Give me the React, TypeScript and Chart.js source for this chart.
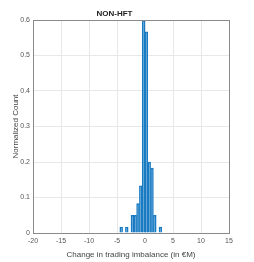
import React, { useEffect, useRef } from "react";
import { Chart, registerables } from "chart.js";

Chart.register(...registerables);

// Bin centres (width 0.5, edges -4.5 … 3.0)
const binCenters = [-4.25, -3.75, -3.25, -2.75, -2.25, -1.75, -1.25, -0.75, -0.25, 0.25, 0.75, 1.25, 1.75, 2.25, 2.75];
const binValues = [0.0167, 0, 0.0167, 0, 0.05, 0.05, 0.083, 0.133, 0.6, 0.567, 0.2, 0.183, 0.05, 0, 0.0167];
const xTicks = [-20, -15, -10, -5, 0, 5, 10, 15];
const yTicks = [0, 0.1, 0.2, 0.3, 0.4, 0.5, 0.6];
const titleText = "NON-HFT";
const xLabel = "Change in trading imbalance (in €M)";
const yLabel = "Normalized Count";

const FONT = "'Liberation Sans', Arial, Helvetica, sans-serif";

const boxPlugin = {
  id: "boxPlugin",
  afterDraw(chart: any) {
    const { ctx, chartArea } = chart;
    ctx.save();
    ctx.strokeStyle = "#8a8a8a";
    ctx.lineWidth = 1;
    ctx.strokeRect(
      Math.round(chartArea.left) + 0.5,
      Math.round(chartArea.top) + 0.5,
      Math.round(chartArea.right - chartArea.left),
      Math.round(chartArea.bottom - chartArea.top)
    );
    ctx.restore();
  },
};

export default function App() {
  const ref = useRef<HTMLCanvasElement | null>(null);
  useEffect(() => {
    document.body.style.margin = "0";
    const canvas = ref.current!;
    const chart = new Chart(canvas, {
      type: "bar",
      data: {
        datasets: [
          {
            data: binCenters.map((x, i) => ({ x, y: binValues[i] })),
            backgroundColor: "rgba(0,114,189,0.06)",
            borderColor: "#1a7cc4",
            borderWidth: 0.9,
            barPercentage: 1,
            categoryPercentage: 1,
          },
        ],
      },
      options: {
        animation: false,
        responsive: false,
        maintainAspectRatio: false,
        layout: { padding: { left: 0, right: 25, top: 0, bottom: 0 } },
        plugins: {
          legend: { display: false },
          tooltip: { enabled: false },
          title: {
            display: true,
            text: titleText,
            color: "#222",
            font: { family: FONT, size: 8, weight: "bold" },
            padding: { top: 9, bottom: 1.4 },
          },
        },
        scales: {
          x: {
            type: "linear",
            min: -20,
            max: 15,
            offset: false,
            afterBuildTicks: (s: any) => {
              s.ticks = xTicks.map((v) => ({ value: v }));
            },
            afterFit: (s: any) => {
              s.height = 29;
            },
            ticks: {
              color: "#555",
              font: { family: FONT, size: 7 },
              padding: 4,
              maxRotation: 0,
              autoSkip: false,
            },
            grid: { color: "#e8e8e8", drawTicks: false, offset: false },
            border: { display: false },
            title: {
              display: true,
              text: xLabel,
              color: "#444",
              font: { family: FONT, size: 8 },
              padding: { top: 3, bottom: 2 },
            },
          },
          y: {
            type: "linear",
            min: 0,
            max: 0.6,
            afterBuildTicks: (s: any) => {
              s.ticks = yTicks.map((v) => ({ value: v }));
            },
            afterFit: (s: any) => {
              s.width = 33;
            },
            ticks: {
              color: "#555",
              font: { family: FONT, size: 7 },
              padding: 3,
              callback: (v: any) => String(Math.round(Number(v) * 10) / 10),
            },
            grid: { color: "#e8e8e8", drawTicks: false },
            border: { display: false },
            title: {
              display: true,
              text: yLabel,
              color: "#444",
              font: { family: FONT, size: 8 },
              padding: { top: 11, bottom: 0 },
            },
          },
        },
      },
      plugins: [boxPlugin],
    } as any);
    return () => chart.destroy();
  }, []);
  return (
    <div style={{ width: 254, height: 262, background: "#fff" }}>
      <canvas ref={ref} width={254} height={262} style={{ display: "block" }} />
    </div>
  );
}
